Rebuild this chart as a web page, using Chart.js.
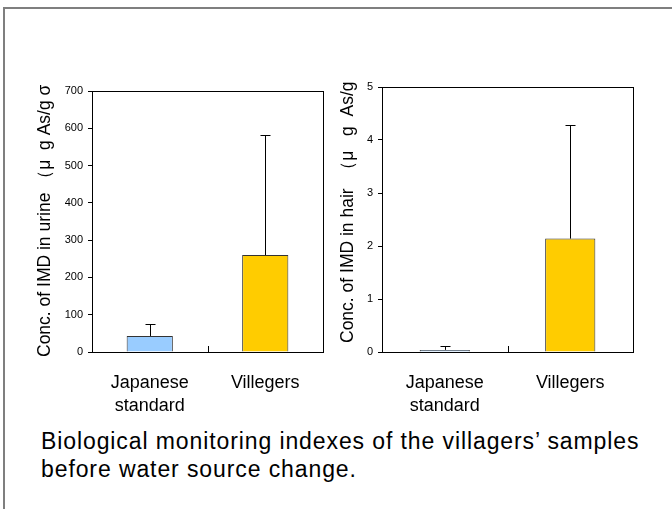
<!DOCTYPE html>
<html>
<head>
<meta charset="utf-8">
<script src="https://cdn.jsdelivr.net/npm/chart.js@4"></script>
<style>
  body { margin: 0; background: #fff; width: 672px; height: 509px; overflow: hidden; position: relative;
         font-family: "Liberation Sans", Arial, sans-serif; }
  #frame { position: absolute; left: 3px; top: 7px; width: 669px; height: 502px;
           border-top: 2px solid #7f7f7f; border-left: 2px solid #7f7f7f; }
  canvas { position: absolute; }
  #urine { left: 20px; top: 75px; }
  #hair { left: 330px; top: 75px; }
  #caption { position: absolute; left: 41px; top: 427px; font-size: 23px; line-height: 28px;
             letter-spacing: 0.9px; color: #000; white-space: nowrap; }
</style>
</head>
<body>
<div id="frame"></div>
<canvas id="urine" width="320" height="345"></canvas>
<canvas id="hair" width="320" height="345"></canvas>
<div id="caption">Biological monitoring indexes of the villagers’ samples<br>before water source change.</div>

<script>
// données
const categories = [['Japanese', 'standard'], 'Villegers'];
const barColors = ['#99ccff', '#ffcc00'];

const urineMean = [43, 260];
const urineUpper = [76, 583];
const urineMax = 700, urineStep = 100;
const urineTitle = 'Conc. of IMD in urine （μ  g As/g σ';

const hairMean = [0.04, 2.14];
const hairUpper = [0.11, 4.28];
const hairMax = 5, hairStep = 1;
const hairTitle = 'Conc. of IMD in hair  （μ   g  As/g';

Chart.defaults.font.family = '"Liberation Sans", Arial, sans-serif';
Chart.defaults.color = '#000';

// cadre, graduations entre catégories, barres d'erreur (haut seulement), titre Y
// (titre dessiné à la main : plus long que la zone, Chart.js le tasserait)
const extras = {
    id: 'extras',
    afterDatasetsDraw(chart, args, opts) {
        const { ctx, chartArea: a, scales: { y } } = chart;
        const line = (x1, y1, x2, y2) => { ctx.beginPath(); ctx.moveTo(x1, y1); ctx.lineTo(x2, y2); ctx.stroke(); };
        ctx.save();
        ctx.strokeStyle = '#000';
        ctx.lineWidth = 1;
        ctx.strokeRect(Math.round(a.left) + 0.5, Math.round(a.top) + 0.5,
                       Math.round(a.right - a.left), Math.round(a.bottom - a.top));
        const n = chart.data.labels.length;
        for (let i = 1; i <= n; i++) {
            const px = Math.round(a.left + (a.right - a.left) * i / n) + 0.5;
            line(px, a.bottom, px, a.bottom - 6);
        }
        const meta = chart.getDatasetMeta(0);
        const values = chart.data.datasets[0].data;
        opts.upper.forEach((v, i) => {
            const bx = Math.round(meta.data[i].x) + 0.5;
            const top = Math.round(y.getPixelForValue(v)) + 0.5;
            line(bx, y.getPixelForValue(values[i]), bx, top);
            line(bx - 5, top, bx + 5, top);
        });

        // début du texte en bas, lu de bas en haut
        ctx.translate(opts.titleX, a.bottom + opts.titleStart);
        ctx.rotate(-Math.PI / 2);
        ctx.fillStyle = '#000';
        ctx.font = '17.5px "Liberation Sans", Arial, sans-serif';
        ctx.textAlign = 'left';
        ctx.textBaseline = 'middle';
        ctx.fillText(opts.title, 0, 0);
        ctx.restore();
    }
};

function makeChart(id, mean, upper, max, step, title, yWidth, titleX, titleStart, pad) {
    return new Chart(document.getElementById(id), {
        type: 'bar',
        data: {
            labels: categories,
            datasets: [{
                data: mean,
                backgroundColor: barColors,
                borderColor: '#333',
                borderWidth: 1,
                barPercentage: 0.4,
                categoryPercentage: 1
            }]
        },
        options: {
            responsive: false,
            animation: false,
            layout: { padding: pad },
            plugins: {
                legend: { display: false },
                tooltip: { enabled: false },
                extras: { upper: upper, title: title, titleX: titleX, titleStart: titleStart }
            },
            scales: {
                x: {
                    grid: { display: false, drawTicks: false },
                    border: { display: true, color: '#000' },
                    ticks: { font: { size: 18, lineHeight: 1.25 }, padding: 20 },
                    afterFit: (s) => { s.height = 68; }
                },
                y: {
                    min: 0,
                    max: max,
                    ticks: { stepSize: step, font: { size: 11 }, padding: 5 },
                    grid: { drawOnChartArea: false, tickLength: 4, color: '#000' },
                    border: { color: '#000' },
                    afterFit: (s) => { s.width = yWidth; }
                }
            }
        },
        plugins: [extras]
    });
}

makeChart('urine', urineMean, urineUpper, urineMax, urineStep, urineTitle,
    72, 25, 5, { top: 16, right: 17, left: 0, bottom: 0 });
makeChart('hair', hairMean, hairUpper, hairMax, hairStep, hairTitle,
    52, 18, -9, { top: 12, right: 17, left: 0, bottom: 0 });
</script>
</body>
</html>
